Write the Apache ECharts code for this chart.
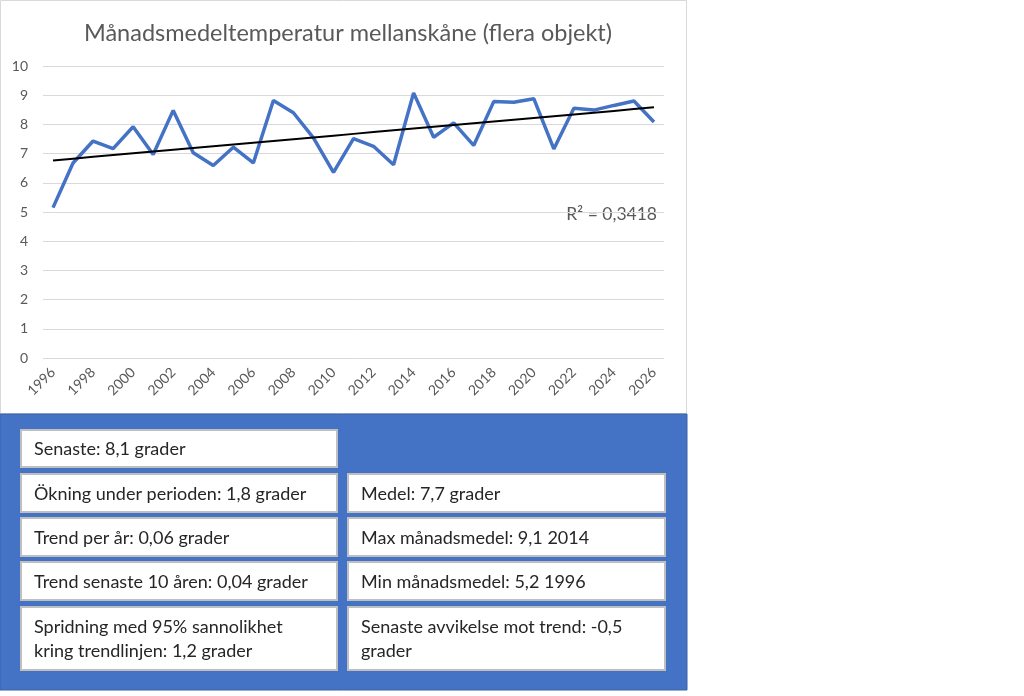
<!DOCTYPE html>
<html>
<head>
<meta charset="utf-8">
<script src="https://cdn.jsdelivr.net/npm/echarts@6/dist/echarts.min.js"></script>
<style>
html,body{margin:0;padding:0;background:#fff;}
#c{width:1024px;height:696px;}
</style>
</head>
<body>
<div id="c"></div>
<script>
const years = ['1996','1997','1998','1999','2000','2001','2002','2003','2004','2005','2006','2007','2008','2009','2010','2011','2012','2013','2014','2015','2016','2017','2018','2019','2020','2021','2022','2023','2024','2025','2026'];
const temps = [5.15,6.68,7.43,7.17,7.92,6.97,8.48,7.03,6.59,7.22,6.68,8.82,8.40,7.54,6.36,7.51,7.25,6.62,9.08,7.56,8.05,7.28,8.78,8.76,8.88,7.16,8.55,8.49,8.65,8.80,8.08];
const yTicks = [0,10,1];
const titleText = 'Månadsmedeltemperatur mellanskåne (flera objekt)';
const r2Text = 'R² = 0,3418';
const leftBoxes = [
  'Senaste: 8,1 grader',
  'Ökning under perioden: 1,8 grader',
  'Trend per år: 0,06 grader',
  'Trend senaste 10 åren: 0,04 grader',
  'Spridning med 95% sannolikhet\nkring trendlinjen: 1,2 grader'
];
const rightBoxes = [
  null,
  'Medel: 7,7 grader',
  'Max månadsmedel: 9,1 2014',
  'Min månadsmedel: 5,2 1996',
  'Senaste avvikelse mot trend: -0,5\ngrader'
];

// least-squares trend from the data
const n = temps.length;
let sx=0, sy=0, sxx=0, sxy=0;
for (let i=0;i<n;i++){ sx+=i; sy+=temps[i]; sxx+=i*i; sxy+=i*temps[i]; }
const slope = (n*sxy - sx*sy)/(n*sxx - sx*sx);
const icept = (sy - slope*sx)/n;
const trend = temps.map((_,i)=> +(icept + slope*i).toFixed(4));

const rowTops = [430, 474, 518, 562, 607];
const rowH = [37, 38, 38, 38, 63];
const colX = [21, 348];
const colW = [316, 317];
const FONT = 'Lato, "Open Sans", sans-serif';

const graphics = [
  {type:'rect', shape:{x:0.5,y:0.5,width:686,height:413}, style:{fill:'none', stroke:'#d9d9d9', lineWidth:1}, z:-1},
  {type:'rect', shape:{x:0,y:414,width:687,height:276}, style:{fill:'#4472C4', stroke:'#3a62a8', lineWidth:1}},
  {type:'text', right: 1024-657, top: 205, style:{text:r2Text, fill:'#595959', font:'17.5px '+FONT}}
];
function addBox(x,y,w,h,txt){
  graphics.push({type:'rect', shape:{x:x,y:y,width:w,height:h}, style:{fill:'#fff', stroke:'#bfbfbf', lineWidth:2}});
  graphics.push({type:'text', x:x+13, y:y+h/2+1, style:{text:txt, fill:'#262626', font:'18px '+FONT, textVerticalAlign:'middle', lineHeight:24}});
}
leftBoxes.forEach((t,i)=>{ if(t) addBox(colX[0], rowTops[i], colW[0], rowH[i], t); });
rightBoxes.forEach((t,i)=>{ if(t) addBox(colX[1], rowTops[i], colW[1], rowH[i], t); });

const chart = echarts.init(document.getElementById('c'));
chart.setOption({
  animation:false,
  backgroundColor:'#fff',
  title:{text:titleText, left:343, top:16, textAlign:'center', textStyle:{fontFamily:FONT, fontSize:23.5, fontWeight:'normal', color:'#595959'}},
  grid:{left:43, right:360, top:66, bottom:338, containLabel:false},
  xAxis:{type:'category', data:years, boundaryGap:true,
    axisLine:{show:false}, axisTick:{show:false},
    axisLabel:{interval:1, rotate:45, color:'#595959', fontSize:14, fontFamily:FONT, margin:12}},
  yAxis:{type:'value', min:yTicks[0], max:yTicks[1], interval:yTicks[2],
    axisLine:{show:false}, axisTick:{show:false},
    axisLabel:{color:'#595959', fontSize:14, fontFamily:FONT, margin:15},
    splitLine:{lineStyle:{color:'#d9d9d9', width:1}}},
  series:[
    {type:'line', data:temps, symbol:'none', lineStyle:{color:'#4472C4', width:3.5}, z:2},
    {type:'line', data:trend, symbol:'none', lineStyle:{color:'#000', width:2}, z:3}
  ],
  graphic: graphics
});
</script>
</body>
</html>
